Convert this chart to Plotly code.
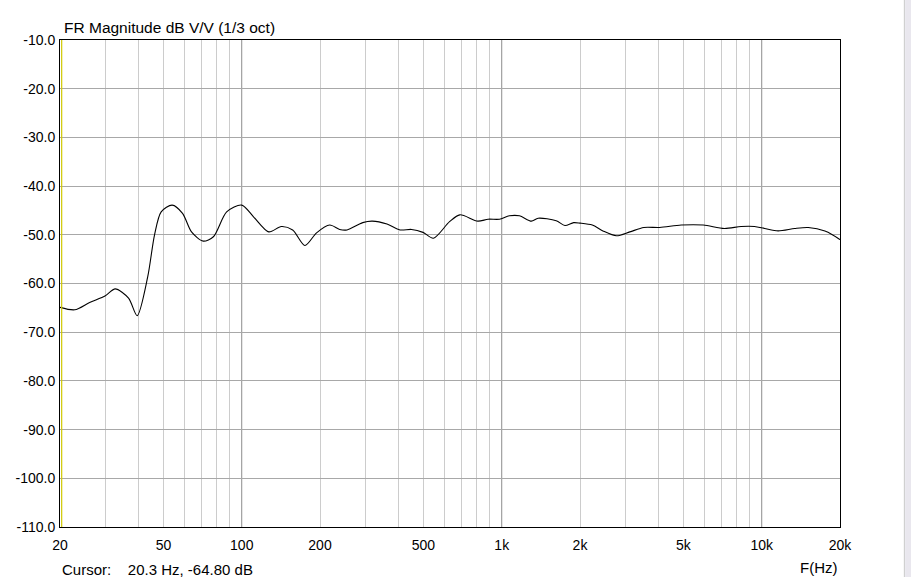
import plotly.graph_objects as go

# ---- data ----
freq_hz = [20, 22.8, 26.0, 29.9, 32.6, 36.7, 39.6, 43.5, 46.2, 49.0, 54.0, 59.2, 64.1,
           71.1, 77.8, 87.5, 100, 111, 127, 142, 157, 175, 194, 218, 238, 254, 292,
           318, 362, 406, 450, 498, 546, 630, 690, 809, 886, 980, 1070, 1170, 1300,
           1380, 1620, 1750, 1890, 2000, 2230, 2450, 2760, 3110, 3520, 4050, 4900,
           5960, 7180, 8330, 9380, 10260, 11560, 13400, 15100, 17500, 19900, 20000]
mag_db = [-64.9, -65.4, -63.9, -62.5, -61.1, -63.0, -66.6, -58.6, -50.0, -45.3, -43.9,
          -45.6, -49.4, -51.3, -50.4, -45.3, -43.9, -46.3, -49.4, -48.3, -49.0, -52.2,
          -49.6, -48.0, -48.9, -49.0, -47.5, -47.2, -47.8, -49.0, -48.9, -49.5, -50.7,
          -47.3, -45.9, -47.2, -46.8, -46.8, -46.1, -46.1, -47.2, -46.6, -47.1, -48.1,
          -47.5, -47.6, -48.0, -49.2, -50.2, -49.4, -48.5, -48.5, -48.0, -48.0, -48.7,
          -48.3, -48.3, -48.7, -49.2, -48.7, -48.5, -49.2, -50.9, -51.0]

x_tick_vals = [20, 50, 100, 200, 500, 1000, 2000, 5000, 10000, 20000]
x_tick_text = ["20", "50", "100", "200", "500", "1k", "2k", "5k", "10k", "20k"]
minor_grid_vals = [20, 30, 40, 50, 60, 70, 80, 90,
                   200, 300, 400, 500, 600, 700, 800, 900,
                   2000, 3000, 4000, 5000, 6000, 7000, 8000, 9000]
decade_vals = [100, 1000, 10000]
y_ticks = [-10, -20, -30, -40, -50, -60, -70, -80, -90, -100, -110]
y_tick_text = ["%.1f" % v for v in y_ticks]
cursor_freq = 20.3
cursor_db = -64.80

FONT = "Liberation Sans, Arial, sans-serif"
NB = "\u00a0"

fig = go.Figure()
fig.add_trace(go.Scatter(x=freq_hz, y=mag_db, mode="lines",
                         line=dict(color="black", width=1.1, shape="spline", smoothing=0.8),
                         hoverinfo="skip", showlegend=False))

shapes = []
for d in decade_vals:
    shapes.append(dict(type="line", xref="x", yref="paper", x0=d, x1=d, y0=0, y1=1,
                       line=dict(color="#8c8c8c", width=1), layer="between"))
# cursor line
shapes.append(dict(type="line", xref="x", yref="paper", x0=cursor_freq, x1=cursor_freq,
                   y0=0, y1=1, line=dict(color="#d0c800", width=1.2), layer="above"))
# right-side strip (window edge)
shapes.append(dict(type="rect", xref="paper", yref="paper", x0=1.0835, x1=1.1, y0=-0.2, y1=1.2,
                   fillcolor="#e9e7ee", line=dict(width=0), layer="above"))
shapes.append(dict(type="line", xref="paper", yref="paper", x0=1.0825, x1=1.0825, y0=-0.2, y1=1.2,
                   line=dict(color="#c8c8c8", width=1), layer="above"))

fig.update_layout(
    width=911, height=577,
    margin=dict(l=60, r=71, t=40, b=50),
    paper_bgcolor="white", plot_bgcolor="white",
    font=dict(family=FONT, size=14, color="black"),
    showlegend=False,
    shapes=shapes,
    xaxis=dict(type="log", range=[1.30103, 4.30103],
               tickvals=x_tick_vals, ticktext=x_tick_text, ticks="",
               ticklabelstandoff=5,
               showgrid=False, zeroline=False,
               minor=dict(tickvals=minor_grid_vals, showgrid=True,
                          gridcolor="#cccccc", gridwidth=1, ticks=""),
               showline=True, linecolor="black", linewidth=1, mirror=True,
               tickfont=dict(family=FONT, size=14, color="black")),
    yaxis=dict(range=[-110, -10], tickvals=y_ticks, ticktext=y_tick_text, ticks="",
               ticklabelstandoff=1,
               showgrid=True, gridcolor="#a8a8a8", gridwidth=1, zeroline=False,
               showline=True, linecolor="black", linewidth=1, mirror=True,
               tickfont=dict(family=FONT, size=14, color="black")),
    annotations=[
        dict(text="FR Magnitude dB V/V (1/3 oct)", xref="paper", yref="paper",
             x=0.002, y=1.0, xanchor="left", yanchor="bottom", yshift=2,
             showarrow=False, font=dict(family=FONT, size=15.5, color="black")),
        dict(text="Cursor:" + NB * 4 + "%.1f Hz, %.2f dB" % (cursor_freq, cursor_db),
             xref="paper", yref="paper", x=0.0, y=0, xanchor="left", yanchor="middle",
             yshift=-42, showarrow=False, font=dict(family=FONT, size=15, color="black")),
        dict(text="F(Hz)", xref="paper", yref="paper", x=1.0, y=0, xanchor="right",
             yanchor="middle", yshift=-40, showarrow=False,
             font=dict(family=FONT, size=15, color="black")),
    ],
)

fig.write_html("out.html", config={"displayModeBar": False},
               post_script="document.body.style.margin='0';document.body.style.overflow='hidden';")
